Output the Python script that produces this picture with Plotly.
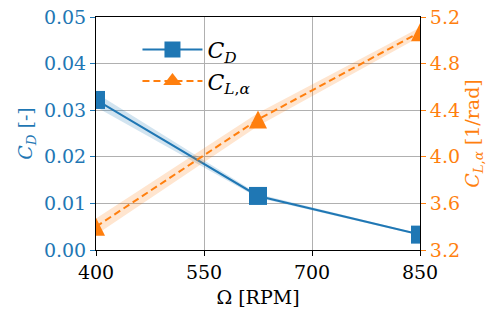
import plotly.graph_objects as go

# Rotor speed sweep
rpm = [400, 625, 850]

# Drag coefficient and its uncertainty half-width
cd = [0.0322, 0.0116, 0.0033]
cd_err = [0.0015, 0.0004, 0.0002]

# Lift-curve slope [1/rad] and its uncertainty half-width
cla = [3.40, 4.32, 5.07]
cla_err = [0.07, 0.055, 0.04]

x_ticks = [400, 550, 700, 850]
cd_ticks = [0.00, 0.01, 0.02, 0.03, 0.04, 0.05]
cla_ticks = [3.2, 3.6, 4.0, 4.4, 4.8, 5.2]

BLUE = "#1f77b4"
ORANGE = "#ff7f0e"
FONT = "DejaVu Serif"
FS = 19

CD_NAME = "<i>C</i><sub><i>D</i></sub>"
CLA_NAME = "<i>C</i><sub><i>L</i>,<i>α</i></sub>"


def band(x, y, e):
    xs = list(x) + list(x)[::-1]
    ys = [a + b for a, b in zip(y, e)] + [a - b for a, b in zip(y, e)][::-1]
    return xs, ys


fig = go.Figure()

bx, by = band(rpm, cd, cd_err)
fig.add_trace(go.Scatter(x=bx, y=by, fill="toself", mode="none",
                         fillcolor="rgba(31,119,180,0.2)", showlegend=False,
                         hoverinfo="skip", yaxis="y"))
fig.add_trace(go.Scatter(x=rpm, y=cd, mode="lines+markers", yaxis="y",
                         name=CD_NAME,
                         line=dict(color=BLUE, width=2),
                         marker=dict(symbol="square", size=18, color=BLUE,
                                     line=dict(width=0))))

ox, oy = band(rpm, cla, cla_err)
fig.add_trace(go.Scatter(x=ox, y=oy, fill="toself", mode="none",
                         fillcolor="rgba(255,127,14,0.2)", showlegend=False,
                         hoverinfo="skip", yaxis="y2"))
# upright triangle as tall as it is wide: a downward arrow turned over and
# shifted back onto the data point
fig.add_trace(go.Scatter(x=rpm, y=cla, mode="lines+markers", yaxis="y2",
                         name=CLA_NAME, showlegend=False,
                         line=dict(color=ORANGE, width=2, dash="7px,4px"),
                         marker=dict(symbol="arrow-down", angle=180, standoff=9,
                                     size=18, color=ORANGE, line=dict(width=0))))
# legend key for the lift-curve slope series
fig.add_trace(go.Scatter(x=[None], y=[None], mode="lines+markers", yaxis="y2",
                         name=CLA_NAME,
                         line=dict(color=ORANGE, width=2, dash="7px,4px"),
                         marker=dict(symbol="triangle-up", size=16, color=ORANGE,
                                     line=dict(width=0))))

fig.update_layout(
    width=491, height=320,
    margin=dict(l=96, r=71, t=17, b=70),
    paper_bgcolor="white", plot_bgcolor="white",
    font=dict(family=FONT, size=FS, color="black"),
    showlegend=True,
    legend=dict(x=0.128, y=0.95, xanchor="left", yanchor="top",
                bgcolor="rgba(0,0,0,0)", borderwidth=0,
                font=dict(family=FONT, size=22), itemwidth=60,
                tracegroupgap=0),
    xaxis=dict(
        range=[400, 850], tickvals=x_ticks, ticktext=[str(v) for v in x_ticks],
        automargin=False,
        showgrid=True, gridcolor="#b0b0b0", gridwidth=1,
        showline=True, linecolor="black", linewidth=1, mirror=True,
        ticks="outside", ticklen=5, tickcolor="black", zeroline=False,
        tickfont=dict(family=FONT, size=FS),
        title=dict(text="Ω [RPM]", standoff=8, font=dict(family=FONT, size=FS)),
    ),
    yaxis=dict(
        range=[0, 0.05], tickvals=cd_ticks, ticktext=[f"{v:.2f}" for v in cd_ticks],
        automargin=False,
        showgrid=True, gridcolor="#b0b0b0", gridwidth=1,
        showline=True, linecolor="black", linewidth=1,
        ticks="outside", ticklen=5, tickcolor=BLUE, zeroline=False,
        tickfont=dict(color=BLUE, family=FONT, size=FS),
        title=dict(text=CD_NAME + " [-]", font=dict(color=BLUE, family=FONT, size=FS),
                   standoff=6),
    ),
    yaxis2=dict(
        range=[3.2, 5.2], tickvals=cla_ticks, ticktext=[f"{v:.1f}" for v in cla_ticks],
        automargin=False,
        overlaying="y", side="right", showgrid=False,
        showline=True, linecolor="black", linewidth=1,
        ticks="outside", ticklen=5, tickcolor=ORANGE, zeroline=False,
        tickfont=dict(color=ORANGE, family=FONT, size=FS),
        title=dict(text=CLA_NAME + " [1/rad]",
                   font=dict(color=ORANGE, family=FONT, size=FS), standoff=6),
    ),
)

fig.write_html("out.html")
